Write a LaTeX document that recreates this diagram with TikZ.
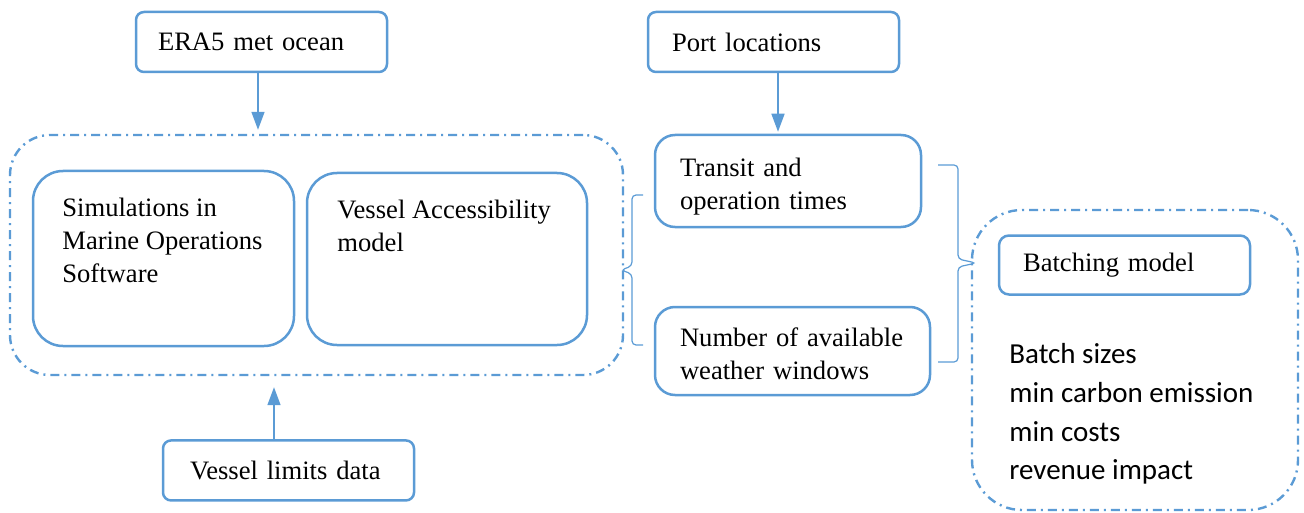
\documentclass[tikz,border=0pt]{standalone}
\usepackage{fontspec}
\setmainfont{Liberation Serif}
\newfontfamily\calibrifont{Carlito}
\usetikzlibrary{arrows.meta, positioning}
\definecolor{boxblue}{RGB}{91,155,213}
\tikzset{
  box/.style={
    rectangle, draw=boxblue, line width=1.25pt, rounded corners=4pt,
    align=left, inner ysep=0pt, font=\fontsize{13.3}{16.4}\selectfont
  },
  bigbox/.style={box, rounded corners=15pt},
  midbox/.style={box, rounded corners=10pt},
  group/.style={
    rectangle, draw=boxblue, line width=1.2pt,
    dash pattern=on 4.5pt off 2.5pt on 1pt off 2.5pt
  },
  arrow/.style={-{Triangle[length=9pt, width=6.5pt]}, boxblue, line width=0.75pt},
  bracket/.style={boxblue, line width=0.6pt, rounded corners=2pt},
  txt/.style={inner sep=0pt, align=left, font=\fontsize{13.3}{16.4}\selectfont}
}
\begin{document}
\begin{tikzpicture}[x=0.5pt, y=-0.5pt]
  \useasboundingbox (0,0) rectangle (1304,513);

  % inputs
  \node[box, minimum width=125.5pt, minimum height=30pt, inner xsep=11pt, text width=103.5pt]
    (era5) at (261.5,42) {ERA5 met ocean};
  \node[box, minimum width=125.5pt, minimum height=30pt, inner xsep=12pt, text width=101.5pt]
    (port) at (773.5,42) {Port locations};

  % accessibility part
  \node[group, rounded corners=20pt, minimum width=306.5pt, minimum height=120pt]
    (grp) at (316.5,255) {};
  \node[bigbox, minimum width=130.5pt, minimum height=87.5pt] (sim) at (163.5,258.5) {};
  \node[txt, anchor=north west] (simtxt) at (62,198)
    {Simulations in\\Marine Operations\\Software};
  \node[bigbox, minimum width=140pt, minimum height=86pt] (acc) at (447,259) {};
  \node[txt, anchor=north west] (acctxt) at (337,200)
    {Vessel Accessibility\\model};
  \node[box, minimum width=125.5pt, minimum height=30pt, inner xsep=13.5pt, text width=98.5pt,
    below=31.5pt of grp, xshift=-14pt] (lim) {Vessel limits data};

  % outputs of the model
  \node[midbox, minimum width=133pt, minimum height=46pt, inner xsep=12.5pt, text width=108pt]
    (transit) at (788,181) {\rule{0pt}{15pt}Transit and\\operation times};
  \node[midbox, minimum width=137.5pt, minimum height=44pt, inner xsep=12.5pt, text width=112.5pt]
    (nwin) at (792.5,351) {\rule{0pt}{12pt}Number of available\\weather windows};

  % batching
  \node[group, rounded corners=25pt, minimum width=163pt, minimum height=150pt]
    (bgrp) at (1135,360) {};
  \node[box, rounded corners=5pt, minimum width=125.5pt, minimum height=29.5pt, inner xsep=12pt,
    text width=101.5pt] (batch) at (1124.5,265) {Batching model};
  \node[inner sep=0pt, align=left, anchor=north west,
    font=\calibrifont\fontsize{14.5}{19.4}\selectfont] (result) at (1009,343)
    {Batch sizes\\min carbon emission\\min costs\\revenue impact};

  \draw[arrow, shorten >=2pt] ([xshift=-1.75pt]era5.south) -- ([xshift=-1.75pt]era5.south |- grp.north);
  \draw[arrow, shorten >=1pt] ([xshift=2.25pt]port.south) -- ([xshift=2.25pt]port.south |- transit.north);
  \draw[arrow, shorten >=5.5pt] ([xshift=-7.25pt]lim.north) -- ([xshift=-7.25pt]lim.north |- grp.south);

  % braces
  \draw[bracket] (643,195) -- (632,195) -- (632,266) -- (621,270) -- (632,274) -- (632,345) -- (643,345);
  \draw[bracket] (938,165) -- (958,165) -- (958,259) -- (976,263) -- (958,267) -- (958,362) -- (938,362);
\end{tikzpicture}
\end{document}
